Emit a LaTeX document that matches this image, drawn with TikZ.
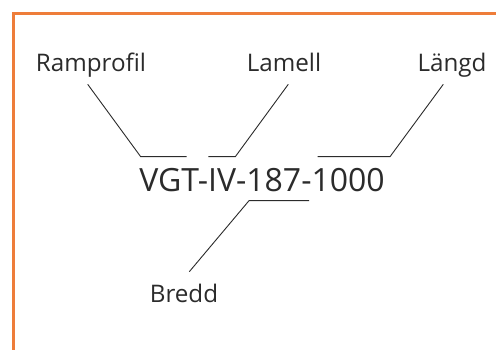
\documentclass[tikz,border=0pt]{standalone}
\usepackage{fontspec}
\setmainfont{Open Sans}
\definecolor{frameorange}{HTML}{EE7D3A}
\definecolor{inkgray}{HTML}{2B2B2B}
\begin{document}
\begin{tikzpicture}[x=1pt,y=-1pt,
  lbl/.style={anchor=base,inner sep=0pt,text=inkgray,font=\fontsize{24.2}{29}\selectfont},
  code/.style={anchor=base,inner sep=0pt,text=inkgray,font=\fontsize{32}{38}\selectfont},
  leader/.style={draw=inkgray,line width=0.9pt}]
\useasboundingbox (0,0) rectangle (496,350);
\fill[white] (0,0) rectangle (496,350);
\draw[frameorange,line width=2.6pt] (13.7,352) -- (13.7,13.7) -- (498,13.7);
% texts
\node[lbl] (ramp) at (91,72) {Ramprofil};
\node[lbl] (lam) at (284,72) {Lamell};
\node[lbl] (lang) at (452,72) {Längd};
\node[lbl] (bredd) at (184,302) {Bredd};
\node[code] (code) at (262,192) {VGT-IV-187-1000};
% connector points
\coordinate (r1) at (87.7,84.3);
\coordinate (r2) at (140.7,156.7);
\coordinate (r3) at (186.7,156.7);
\coordinate (l1) at (288.3,84.3);
\coordinate (l2) at (235.3,156.7);
\coordinate (l3) at (208.3,156.7);
\coordinate (g1) at (443.3,84.3);
\coordinate (g2) at (390,156.7);
\coordinate (g3) at (317.7,156.7);
\coordinate (b1) at (189.3,271.7);
\coordinate (b2) at (249,200.7);
\coordinate (b3) at (309,200.7);
\draw[leader] (r1) -- (r2) -- (r3);
\draw[leader] (l1) -- (l2) -- (l3);
\draw[leader] (g1) -- (g2) -- (g3);
\draw[leader] (b1) -- (b2) -- (b3);
\end{tikzpicture}
\end{document}
